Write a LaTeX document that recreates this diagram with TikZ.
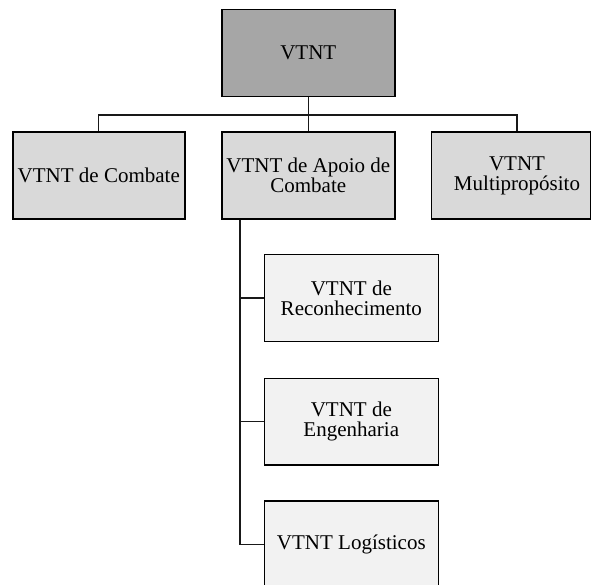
\documentclass[tikz,border=0pt]{standalone}
\usepackage{fontspec}
\setmainfont{Liberation Serif}
\begin{document}
\begin{tikzpicture}[x=1pt,y=-1pt,
  box/.style={draw=black,line width=1.4pt,inner sep=0pt,align=center,
    font=\fontsize{21}{20}\selectfont},
  topbox/.style={box,fill=black!35,minimum width=173pt,minimum height=87pt},
  midbox/.style={box,fill=black!15,minimum width=173pt,minimum height=87pt},
  subbox/.style={box,fill=black!5,minimum width=174pt,minimum height=86.5pt},
  conn/.style={draw=black!90,line width=1.3pt}]
\useasboundingbox[fill=white] (0,0) rectangle (592,584);
\node[topbox] (top) at (308.3,53) {VTNT};
\node[midbox,minimum width=172pt] (comb) at (98.8,175.5) {VTNT de Combate};
\node[midbox] (apoio) at (308.3,175.5) {VTNT de Apoio de\\Combate};
\node[midbox,minimum width=159pt] (multi) at (510.7,175.5) {};
\node[box,draw=none] (multitxt) at (517,175.5) {VTNT\\Multipropósito};
\node[subbox] (recon) at (351.3,298) {VTNT de\\Reconhecimento};
\node[subbox] (eng) at (351.3,421.7) {VTNT de\\Engenharia};
\node[subbox] (log) at (351.3,544.2) {VTNT Logísticos};
\coordinate (hy) at (0,115);
\coordinate (vx) at (240,0);
\draw[conn] (top.south) -- (top.south |- hy);
\draw[conn] (comb.north) -- (comb.north |- hy) -- (multitxt.center |- hy) -- (multitxt.center |- multi.north);
\draw[conn] (apoio.north) -- (apoio.north |- hy);
\draw[conn] (vx |- apoio.south) -- (vx |- log.west) -- (log.west);
\draw[conn] (vx |- recon.west) -- (recon.west);
\draw[conn] (vx |- eng.west) -- (eng.west);
\end{tikzpicture}
\end{document}
